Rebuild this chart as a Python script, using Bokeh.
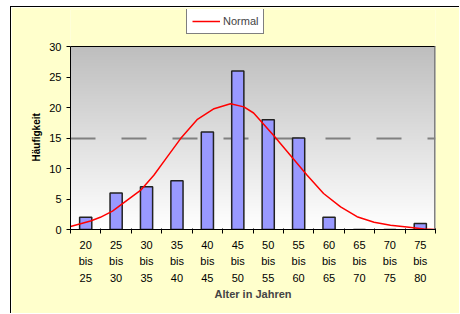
import numpy as np
from bokeh.plotting import figure
from bokeh.models import Range1d, FixedTicker, Legend, LegendItem, Title
from bokeh.embed import file_html
from bokeh.resources import INLINE

# ---- data ----
bin_lower = [20, 25, 30, 35, 40, 45, 50, 55, 60, 65, 70, 75]
bin_upper = [25, 30, 35, 40, 45, 50, 55, 60, 65, 70, 75, 80]
counts = [2, 6, 7, 8, 16, 26, 18, 15, 2, 0, 0, 1]
tick_labels = [f"{lo}\nbis\n{hi}" for lo, hi in zip(bin_lower, bin_upper)]
y_ticks = [0, 5, 10, 15, 20, 25, 30]
ref_value = 15
normal_age = [20.0, 23.3, 24.9, 26.9, 28.5, 31.5, 33.7, 35.9, 38.1, 40.8, 43.6,
              46.3, 48.5, 50.1, 53.4, 56.2, 58.9, 61.6, 64.4, 67.1, 69.9, 72.6,
              75.3, 78.1, 80.0]
normal_val = [0.5, 1.4, 2.0, 3.0, 4.2, 6.4, 8.9, 11.9, 14.9, 18.0, 19.8,
              20.6, 20.1, 19.1, 15.4, 12.1, 8.9, 5.9, 3.7, 2.1, 1.2, 0.7,
              0.4, 0.1, 0.0]

centers = [(lo + hi) / 2 for lo, hi in zip(bin_lower, bin_upper)]
x_min, x_max = bin_lower[0], bin_upper[-1]
y_min, y_max = y_ticks[0], y_ticks[-1]
FONT = "Liberation Sans"

# frame layout (pixels): plot area 183 px tall, frame extended upward to hold the legend
AREA_PX = 183
FRAME_PX = 220
y_range_top = y_max * FRAME_PX / AREA_PX

p = figure(width=449, height=307,
           x_range=Range1d(x_min, x_max),
           y_range=Range1d(y_min, y_range_top),
           output_backend="svg", toolbar_location=None,
           min_border_left=59, min_border_right=25,
           min_border_top=2, min_border_bottom=85)
p.border_fill_color = "#FFFFCC"
p.background_fill_color = "#FFFFCC"
p.grid.visible = False
p.outline_line_color = None
p.styles = {"border-top": "1px solid black", "border-left": "1px solid black",
            "margin-top": "6px", "margin-left": "10px"}

# gradient background of plot area
N = 183
img = np.zeros((N, 1), dtype=np.uint32)
view = img.view(dtype=np.uint8).reshape((N, 1, 4))
for i in range(N):
    t = i / (N - 1)
    g = int(round(255 - t * (255 - 190)))
    view[i, 0, :] = [g, g, g, 255]
p.image_rgba(image=[img], x=x_min, y=y_min, dw=x_max - x_min, dh=y_max - y_min)

# dashed reference line
p.hspan(y=[ref_value], line_color="#808080", line_width=2, line_dash="25 26")

# bars
p.vbar(x=centers, top=counts, width=2.0, fill_color="#9999FF",
       line_color="#222222", line_width=1.5)

# normal curve
r = p.line(normal_age, normal_val, line_color="#FF0000", line_width=1.5)

# plot-area frame: black top, gray right
p.segment(x0=[x_min], y0=[y_max], x1=[x_max], y1=[y_max], line_color="black", line_width=1)
p.segment(x0=[x_max], y0=[y_min], x1=[x_max], y1=[y_max], line_color="#808080", line_width=3)

# x axis
xa = p.xaxis[0]
xa.ticker = FixedTicker(ticks=centers, minor_ticks=bin_lower + [bin_upper[-1]])
xa.major_label_overrides = {c: lab for c, lab in zip(centers, tick_labels)}
xa.major_tick_line_color = None
xa.major_tick_out = 4
xa.minor_tick_out = 4
xa.minor_tick_in = 1
xa.minor_tick_line_color = "black"
xa.axis_line_color = "black"
xa.major_label_text_font = FONT
xa.major_label_text_font_size = "11px"
xa.major_label_text_line_height = 1.4
xa.major_label_text_color = "black"
xa.major_label_standoff = 5
xa.axis_label = "Alter in Jahren"
xa.axis_label_text_font = FONT
xa.axis_label_text_font_size = "11px"
xa.axis_label_text_font_style = "bold"
xa.axis_label_standoff = 1

# y axis
ya = p.yaxis[0]
ya.ticker = FixedTicker(ticks=y_ticks)
ya.bounds = (y_min, y_max)
ya.major_tick_out = 4
ya.major_tick_in = 0
ya.minor_tick_line_color = None
ya.axis_line_color = "black"
ya.major_label_text_font = FONT
ya.major_label_text_font_size = "11px"
ya.major_label_text_color = "black"
ya.major_label_standoff = 5

# y axis title, centred on the 0..30 plot area (text starts 72 px above frame bottom)
ytitle = Title(text="Häufigkeit", align="left", offset=68, standoff=10,
               text_font=FONT, text_font_size="10px", text_font_style="bold",
               text_color="black")
p.add_layout(ytitle, "left")

legend = Legend(items=[LegendItem(label="Normal", renderers=[r])],
                location=(116, 195), orientation="vertical",
                border_line_color="black", border_line_width=1,
                background_fill_color="white", background_fill_alpha=1,
                label_text_font=FONT, label_text_font_size="11px",
                glyph_width=28, glyph_height=14, label_height=14,
                label_standoff=3, padding=5, margin=0, spacing=0)
p.add_layout(legend, "center")

open("out.html", "w").write(file_html(p, INLINE))
